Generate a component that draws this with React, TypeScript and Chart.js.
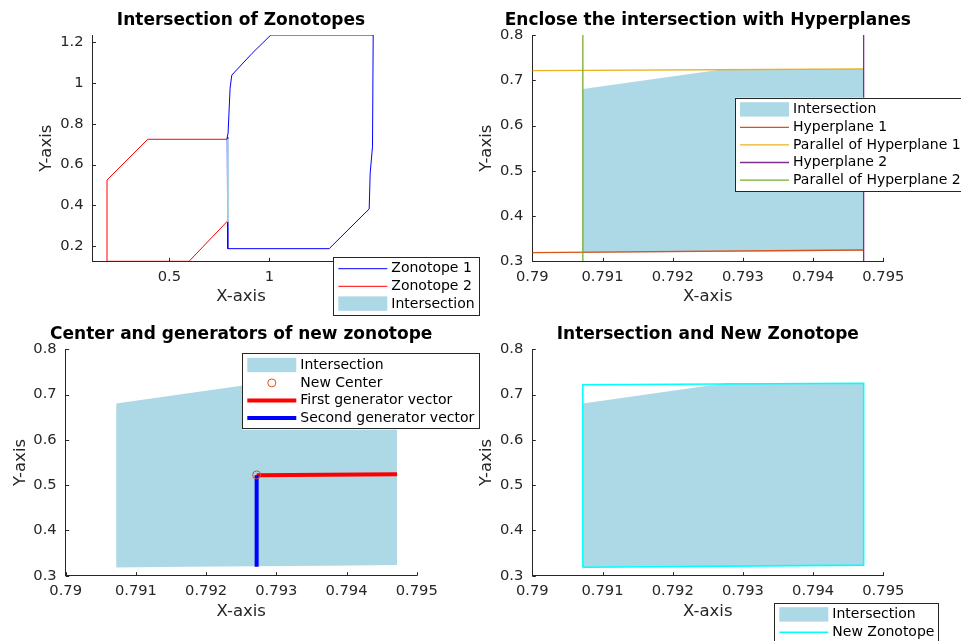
import React, { useEffect, useRef } from 'react';
import { Chart, registerables } from 'chart.js';

Chart.register(...registerables);

const FONT = '"DejaVu Sans", "Liberation Sans", sans-serif';
const AXIS_COLOR = '#262626';
const LIGHT_BLUE = '#ADD8E6';

// ---------- data ----------
const ZONO1_X = [0.792, 1.2985, 1.4985, 1.5035, 1.515, 1.5185, 1.007, 0.9135, 0.812, 0.8035, 0.7935, 0.789, 0.792];
const ZONO1_Y = [0.187, 0.187, 0.382, 0.558, 0.687, 1.236, 1.236, 1.146, 1.039, 0.974, 0.755, 0.734, 0.187];
const ZONO2_X = [0.1885, 0.1885, 0.392, 0.792, 0.792, 0.5985, 0.1885];
const ZONO2_Y = [0.125, 0.524, 0.724, 0.724, 0.324, 0.125, 0.125];
const INTER_X = [0.79072, 0.79072, 0.79275, 0.79472, 0.79472, 0.79372, 0.79172, 0.79072];
const INTER_Y = [0.3183, 0.6805, 0.7249, 0.7249, 0.3234, 0.3222, 0.3200, 0.3183];
const HYP1_X = [0.79, 0.79472];
const HYP1_Y = [0.319, 0.325];
const PHYP1_X = [0.79, 0.79472];
const PHYP1_Y = [0.7211, 0.7249];
const HYP2_X = [0.79472, 0.79472];
const HYP2_Y = [0.3, 0.8];
const PHYP2_X = [0.79072, 0.79072];
const PHYP2_Y = [0.3, 0.8];
const CENTER_X = [0.79272];
const CENTER_Y = [0.5225];
const GEN1_X = [0.79272, 0.79472];
const GEN1_Y = [0.5218, 0.5238];
const GEN2_X = [0.79272, 0.79272];
const GEN2_Y = [0.5218, 0.3198];
const NEWZ_X = [0.79072, 0.79472, 0.79472, 0.79072, 0.79072];
const NEWZ_Y = [0.3185, 0.3233, 0.7249, 0.7216, 0.3185];

const X1_TICKS = [0.5, 1, 1.5];
const X1_LABELS = ['0.5', '1', '1.5'];
const Y1_TICKS = [0.2, 0.4, 0.6, 0.8, 1, 1.2];
const Y1_LABELS = ['0.2', '0.4', '0.6', '0.8', '1', '1.2'];
const XZ_TICKS = [0.79, 0.791, 0.792, 0.793, 0.794, 0.795];
const XZ_LABELS = ['0.79', '0.791', '0.792', '0.793', '0.794', '0.795'];
const YZ_TICKS = [0.3, 0.4, 0.5, 0.6, 0.7, 0.8];
const YZ_LABELS = ['0.3', '0.4', '0.5', '0.6', '0.7', '0.8'];

const pts = (xs: number[], ys: number[]) => xs.map((x, i) => ({ x, y: ys[i] }));

// ---------- style constants ----------
const TITLE_SIZE = 17;
const LABEL_SIZE = 16.5;
const TICK_SIZE = 14.7;
const LEGEND_SIZE = 14;
const WY = 55.3;
const HX = 45.5;

const lineDs = (label: string, xs: number[], ys: number[], color: string, width: number, order: number) => ({
  label,
  data: pts(xs, ys),
  borderColor: color,
  backgroundColor: color,
  borderWidth: width,
  pointRadius: 0,
  fill: false,
  tension: 0,
  order,
});

const fillDs = (label: string, xs: number[], ys: number[], order: number, edge: number) => ({
  label,
  data: pts(xs, ys),
  borderColor: edge > 0 ? LIGHT_BLUE : 'rgba(0,0,0,0)',
  backgroundColor: LIGHT_BLUE,
  borderWidth: edge,
  pointRadius: 0,
  fill: 'shape',
  tension: 0,
  order,
});

const decorPlugin = {
  id: 'matlabDecor',
  afterDraw(chart: any, _args: any, opts: any) {
    const ctx = chart.ctx;
    const area = chart.chartArea;
    const xs = chart.scales.x;
    const ys = chart.scales.y;
    ctx.save();
    // inward tick marks
    ctx.strokeStyle = AXIS_COLOR;
    ctx.lineWidth = 1;
    for (const t of xs.ticks) {
      const px = Math.round(xs.getPixelForValue(t.value)) + 0.5;
      ctx.beginPath();
      ctx.moveTo(px, area.bottom);
      ctx.lineTo(px, area.bottom - 3.5);
      ctx.stroke();
    }
    for (const t of ys.ticks) {
      const py = Math.round(ys.getPixelForValue(t.value)) + 0.5;
      ctx.beginPath();
      ctx.moveTo(area.left, py);
      ctx.lineTo(area.left + 3.5, py);
      ctx.stroke();
    }
    // title, centred over the axes
    if (opts && opts.title) {
      ctx.fillStyle = '#000000';
      ctx.font = `bold ${TITLE_SIZE}px ${FONT}`;
      ctx.textAlign = 'center';
      ctx.textBaseline = 'middle';
      ctx.fillText(opts.title, (area.left + area.right) / 2, opts.titleMid);
    }
    // legend
    const lg = opts && opts.legend;
    if (lg) {
      const { x, y, w, items } = lg;
      const first = 12;
      const step = 17.6;
      const h = first + (items.length - 1) * step + 11.6;
      ctx.fillStyle = '#ffffff';
      ctx.fillRect(x, y, w, h);
      ctx.strokeStyle = AXIS_COLOR;
      ctx.lineWidth = 1;
      ctx.strokeRect(Math.round(x) + 0.5, Math.round(y) + 0.5, Math.round(w) - 1, Math.round(h) - 1);
      items.forEach((it: any, i: number) => {
        const cy = y + first + i * step;
        const sx0 = x + 5;
        const sx1 = x + 54;
        if (it.kind === 'patch') {
          ctx.fillStyle = it.color;
          ctx.fillRect(sx0, cy - 7.5, sx1 - sx0, 14.4);
        } else if (it.kind === 'line') {
          ctx.strokeStyle = it.color;
          ctx.lineWidth = it.width;
          ctx.beginPath();
          ctx.moveTo(sx0, cy);
          ctx.lineTo(sx1, cy);
          ctx.stroke();
        } else if (it.kind === 'marker') {
          ctx.strokeStyle = it.color;
          ctx.lineWidth = 1;
          ctx.beginPath();
          ctx.arc((sx0 + sx1) / 2, cy, 4, 0, Math.PI * 2);
          ctx.stroke();
        }
        ctx.fillStyle = '#000000';
        ctx.font = `${LEGEND_SIZE}px ${FONT}`;
        ctx.textBaseline = 'middle';
        ctx.textAlign = 'left';
        ctx.fillText(it.label, x + 58, cy);
      });
    }
    ctx.restore();
  },
};

type Panel = {
  area: { l: number; t: number; r: number; b: number };
  titleMid: number;
  title: string;
  xMin: number; xMax: number; yMin: number; yMax: number;
  xTicks: number[]; xLabels: string[]; yTicks: number[]; yLabels: string[];
  datasets: any[];
  legend: any;
};

const PANELS: Panel[] = [
  {
    area: { l: 92.5, t: 35, r: 389.5, b: 261.3 },
    titleMid: 20.7,
    title: 'Intersection of Zonotopes',
    xMin: 0.116, xMax: 1.6, yMin: 0.125, yMax: 1.236,
    xTicks: X1_TICKS, xLabels: X1_LABELS, yTicks: Y1_TICKS, yLabels: Y1_LABELS,
    datasets: [
      fillDs('Intersection', INTER_X, INTER_Y, 0, 1),
      lineDs('Zonotope 1', ZONO1_X, ZONO1_Y, '#0000FF', 1, 1),
      lineDs('Zonotope 2', ZONO2_X, ZONO2_Y, '#FF0000', 1, 2),
    ],
    legend: {
      x: 333.3, y: 256.7, w: 146.7,
      items: [
        { kind: 'line', label: 'Zonotope 1', color: '#0000FF', width: 1 },
        { kind: 'line', label: 'Zonotope 2', color: '#FF0000', width: 1 },
        { kind: 'patch', label: 'Intersection', color: LIGHT_BLUE },
      ],
    },
  },
  {
    area: { l: 532.3, t: 35, r: 883.3, b: 261.3 },
    titleMid: 20.7,
    title: 'Enclose the intersection with Hyperplanes',
    xMin: 0.79, xMax: 0.795, yMin: 0.3, yMax: 0.8,
    xTicks: XZ_TICKS, xLabels: XZ_LABELS, yTicks: YZ_TICKS, yLabels: YZ_LABELS,
    datasets: [
      fillDs('Intersection', INTER_X, INTER_Y, 10, 0),
      lineDs('Hyperplane 1', HYP1_X, HYP1_Y, '#D95319', 1.3, 4),
      lineDs('Parallel of Hyperplane 1', PHYP1_X, PHYP1_Y, '#EDB120', 1.3, 3),
      lineDs('Hyperplane 2', HYP2_X, HYP2_Y, '#7E2F8E', 1.3, 2),
      lineDs('Parallel of Hyperplane 2', PHYP2_X, PHYP2_Y, '#77AC30', 1.3, 1),
    ],
    legend: {
      x: 735, y: 97.7, w: 232,
      items: [
        { kind: 'patch', label: 'Intersection', color: LIGHT_BLUE },
        { kind: 'line', label: 'Hyperplane 1', color: '#D95319', width: 1.3 },
        { kind: 'line', label: 'Parallel of Hyperplane 1', color: '#EDB120', width: 1.3 },
        { kind: 'line', label: 'Hyperplane 2', color: '#7E2F8E', width: 1.3 },
        { kind: 'line', label: 'Parallel of Hyperplane 2', color: '#77AC30', width: 1.3 },
      ],
    },
  },
  {
    area: { l: 65.7, t: 349.3, r: 416.7, b: 575.7 },
    titleMid: 335,
    title: 'Center and generators of new zonotope',
    xMin: 0.79, xMax: 0.795, yMin: 0.3, yMax: 0.8,
    xTicks: XZ_TICKS, xLabels: XZ_LABELS, yTicks: YZ_TICKS, yLabels: YZ_LABELS,
    datasets: [
      fillDs('Intersection', INTER_X, INTER_Y, 10, 0),
      {
        label: 'New Center',
        data: pts(CENTER_X, CENTER_Y),
        showLine: false,
        pointRadius: 4,
        pointStyle: 'circle',
        pointBackgroundColor: 'rgba(0,0,0,0)',
        pointBorderColor: '#D95319',
        pointBorderWidth: 1,
        borderColor: '#D95319',
        order: 1,
      },
      lineDs('First generator vector', GEN1_X, GEN1_Y, '#FF0000', 4, 3),
      lineDs('Second generator vector', GEN2_X, GEN2_Y, '#0000FF', 4, 2),
    ],
    legend: {
      x: 242.3, y: 353.3, w: 237.7,
      items: [
        { kind: 'patch', label: 'Intersection', color: LIGHT_BLUE },
        { kind: 'marker', label: 'New Center', color: '#D95319' },
        { kind: 'line', label: 'First generator vector', color: '#FF0000', width: 4 },
        { kind: 'line', label: 'Second generator vector', color: '#0000FF', width: 4 },
      ],
    },
  },
  {
    area: { l: 532.3, t: 349.3, r: 883.3, b: 575.7 },
    titleMid: 335,
    title: 'Intersection and New Zonotope',
    xMin: 0.79, xMax: 0.795, yMin: 0.3, yMax: 0.8,
    xTicks: XZ_TICKS, xLabels: XZ_LABELS, yTicks: YZ_TICKS, yLabels: YZ_LABELS,
    datasets: [
      fillDs('Intersection', INTER_X, INTER_Y, 10, 0),
      lineDs('New Zonotope', NEWZ_X, NEWZ_Y, '#00FFFF', 1.6, 1),
    ],
    legend: {
      x: 774.3, y: 602.7, w: 165,
      items: [
        { kind: 'patch', label: 'Intersection', color: LIGHT_BLUE },
        { kind: 'line', label: 'New Zonotope', color: '#00FFFF', width: 1.6 },
      ],
    },
  },
];

function makeConfig(p: Panel): any {
  return {
    type: 'line',
    data: { datasets: p.datasets },
    options: {
      responsive: false,
      animation: false,
      devicePixelRatio: 1,
      layout: {
        padding: {
          left: p.area.l - WY,
          right: 961 - p.area.r,
          top: p.area.t,
          bottom: 641 - p.area.b - HX,
        },
      },
      plugins: {
        legend: { display: false },
        tooltip: { enabled: false },
        title: { display: false },
        matlabDecor: { legend: p.legend, title: p.title, titleMid: p.titleMid },
      },
      scales: {
        x: {
          type: 'linear',
          position: 'bottom',
          min: p.xMin,
          max: p.xMax,
          afterFit: (s: any) => { s.height = HX; },
          afterBuildTicks: (s: any) => { s.ticks = p.xTicks.map((v) => ({ value: v })); },
          ticks: {
            callback: (_v: any, i: number) => p.xLabels[i],
            padding: 7,
            color: AXIS_COLOR,
            font: { family: FONT, size: TICK_SIZE },
            maxRotation: 0,
            minRotation: 0,
            autoSkip: false,
          },
          grid: { display: false, drawTicks: false },
          border: { display: true, color: AXIS_COLOR, width: 1 },
          title: {
            display: true,
            text: 'X-axis',
            color: AXIS_COLOR,
            font: { family: FONT, size: LABEL_SIZE, lineHeight: 1.2 },
            padding: { top: 0, bottom: 0 },
          },
        },
        y: {
          type: 'linear',
          position: 'left',
          min: p.yMin,
          max: p.yMax,
          afterFit: (s: any) => { s.width = WY; },
          afterBuildTicks: (s: any) => { s.ticks = p.yTicks.map((v) => ({ value: v })); },
          ticks: {
            callback: (_v: any, i: number) => p.yLabels[i],
            padding: 9,
            color: AXIS_COLOR,
            font: { family: FONT, size: TICK_SIZE },
            autoSkip: false,
          },
          grid: { display: false, drawTicks: false },
          border: { display: true, color: AXIS_COLOR, width: 1 },
          title: {
            display: true,
            text: 'Y-axis',
            color: AXIS_COLOR,
            font: { family: FONT, size: LABEL_SIZE, lineHeight: 1.2 },
            padding: { top: 0, bottom: 0 },
          },
        },
      },
    },
    plugins: [decorPlugin],
  };
}

function PanelChart({ panel }: { panel: Panel }) {
  const ref = useRef<HTMLCanvasElement | null>(null);
  useEffect(() => {
    if (!ref.current) return;
    const chart = new Chart(ref.current, makeConfig(panel));
    return () => chart.destroy();
  }, [panel]);
  return (
    <canvas
      ref={ref}
      width={961}
      height={641}
      style={{ position: 'absolute', left: 0, top: 0, width: 961, height: 641 }}
    />
  );
}

export default function App() {
  return (
    <div
      style={{
        position: 'absolute',
        left: 0,
        top: 0,
        width: 961,
        height: 641,
        background: '#ffffff',
        overflow: 'hidden',
      }}
    >
      {PANELS.map((p, i) => (
        <PanelChart key={i} panel={p} />
      ))}
    </div>
  );
}
